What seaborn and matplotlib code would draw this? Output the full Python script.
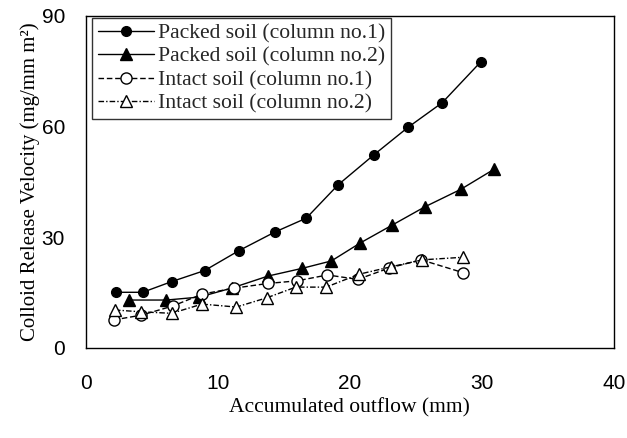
import matplotlib
matplotlib.use("Agg")
import matplotlib.pyplot as plt
import seaborn as sns
import numpy as np

# ---- data ----
packed1_x = [2.3, 4.3, 6.5, 9.0, 11.6, 14.3, 16.7, 19.1, 21.8, 24.4, 27.0, 29.9]
packed1_y = [15.1, 15.1, 18.0, 21.0, 26.4, 31.4, 35.2, 44.2, 52.3, 59.8, 66.5, 77.5]

packed2_x = [3.3, 6.1, 8.6, 11.1, 13.8, 16.4, 18.6, 20.8, 23.2, 25.7, 28.4, 30.9]
packed2_y = [13.0, 13.0, 13.8, 16.3, 19.5, 21.6, 23.6, 28.5, 33.3, 38.3, 43.0, 48.4]

intact1_x = [2.1, 4.2, 6.6, 8.8, 11.2, 13.8, 16.0, 18.3, 20.6, 23.0, 25.4, 28.6]
intact1_y = [7.6, 8.9, 11.4, 14.6, 16.2, 17.5, 18.2, 19.8, 18.6, 21.7, 23.9, 20.4]

intact2_x = [2.2, 4.2, 6.5, 8.8, 11.4, 13.7, 15.9, 18.2, 20.7, 23.1, 25.5, 28.6]
intact2_y = [10.3, 9.8, 9.4, 11.9, 11.1, 13.6, 16.5, 16.5, 20.0, 22.0, 23.9, 24.6]

labels = ["Packed soil (column no.1)", "Packed soil (column no.2)",
          "Intact soil (column no.1)", "Intact soil (column no.2)"]
x_ticks = [0, 10, 20, 30, 40]
y_ticks = [0, 30, 60, 90]

sns.set_theme(style="white")
plt.rcParams["font.family"] = ["Liberation Serif", "DejaVu Serif"]

fig = plt.figure(figsize=(6.27, 4.38), dpi=100)
ax = fig.add_axes([0.137, 0.2055, 0.842, 0.758])

styles = [
    dict(marker="o", linestyle="-", mfc="black", ms=7),
    dict(marker="^", linestyle="-", mfc="black", ms=8),
    dict(marker="o", linestyle=(0, (4, 2)), mfc="white", ms=8),
    dict(marker="^", linestyle=(0, (4, 1.5, 1, 1.5)), mfc="white", ms=9),
]
series = [(packed1_x, packed1_y), (packed2_x, packed2_y),
          (intact1_x, intact1_y), (intact2_x, intact2_y)]

for (xs, ys), lab, st in zip(series, labels, styles):
    sns.lineplot(x=xs, y=ys, ax=ax, color="black", linewidth=1.0,
                 marker=st["marker"], markersize=st["ms"],
                 markerfacecolor=st["mfc"], markeredgecolor="black",
                 markeredgewidth=1.0, linestyle=st["linestyle"],
                 label=lab, estimator=None, sort=False)

ax.set_xlim(0, 40)
ax.set_ylim(0, 90)
ax.set_xticks(x_ticks)
ax.set_yticks(y_ticks)
for lbl in ax.get_xticklabels() + ax.get_yticklabels():
    lbl.set_fontfamily(["Liberation Sans", "DejaVu Sans"])
    lbl.set_fontsize(15)
ax.tick_params(axis="both", direction="in", length=5, width=1, colors="black")
ax.tick_params(axis="x", pad=19)
ax.tick_params(axis="y", pad=15)
for sp in ax.spines.values():
    sp.set_color("black")
    sp.set_linewidth(1.0)
ax.grid(False)

ax.set_xlabel("Accumulated outflow (mm)", fontsize=15.5, color="black")
ax.set_ylabel("Colloid Release Velocity (mg/mm m²)", fontsize=15, color="black")
ax.xaxis.set_label_coords(0.5, -0.152)
ax.yaxis.set_label_coords(-0.087, 0.5)

leg = ax.legend(loc="upper left", bbox_to_anchor=(0.012, 0.994), fontsize=15.6,
                frameon=True, fancybox=False, edgecolor="black",
                handlelength=2.6, handletextpad=0.2, borderpad=0.25,
                labelspacing=0.15, borderaxespad=0.0)
leg.get_frame().set_linewidth(1.0)

fig.savefig("out.png", dpi=100, facecolor="white")
